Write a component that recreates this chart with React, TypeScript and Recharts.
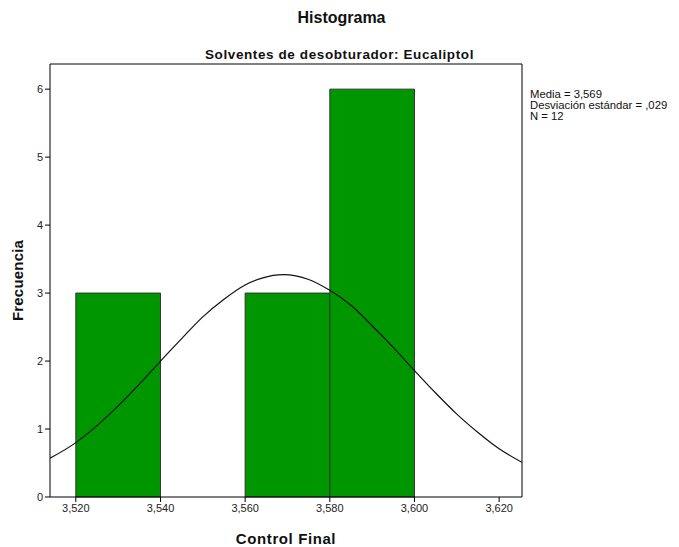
import React from 'react';
import {
    ComposedChart,
    Line,
    XAxis,
    YAxis,
    ReferenceArea,
    ReferenceLine,
} from 'recharts';

// histogram bins (Control Final)
const binStarts = [3.52, 3.54, 3.56, 3.58];
const binEnds = [3.54, 3.56, 3.58, 3.6];
const counts = [3, 0, 3, 6];

// normal curve
const curveX = [
    3.5139, 3.52, 3.525, 3.53, 3.535, 3.54, 3.545, 3.55, 3.555, 3.56, 3.564, 3.569,
    3.575, 3.58, 3.585, 3.59, 3.595, 3.6, 3.605, 3.61, 3.615, 3.62, 3.6254,
];
const curveY = [
    0.57, 0.8, 1.05, 1.34, 1.66, 2.0, 2.33, 2.65, 2.91, 3.12, 3.22, 3.27,
    3.2, 3.04, 2.82, 2.52, 2.2, 1.86, 1.53, 1.22, 0.95, 0.71, 0.51,
];

const xTicks = [3.52, 3.54, 3.56, 3.58, 3.6, 3.62];
const yTicks = [0, 1, 2, 3, 4, 5, 6];
const X_MIN = 3.5139;
const X_MAX = 3.6254;
const Y_MAX = 6.37;

const statLines = ['Media = 3,569', 'Desviación estándar = ,029', 'N = 12'];

const FONT = '"Liberation Sans", Arial, sans-serif';

const curveData = curveX.map((x, i) => ({ x, y: curveY[i] }));

const fmtX = (v: number) => v.toFixed(3).replace('.', ',');

export default function App() {
    return (
        <div style={{ position: 'absolute', left: 0, top: 0, width: 679, height: 547, background: '#fff', fontFamily: FONT }}>
            {/* Titles */}
            <div style={{ position: 'absolute', left: 0, width: 679, top: 9, textAlign: 'center', paddingLeft: 2, fontSize: 16, fontWeight: 'bold', color: '#111' }}>
                Histograma
            </div>
            <div style={{ position: 'absolute', left: 0, width: 679, top: 47, textAlign: 'center', paddingLeft: 0, fontSize: 13.5, letterSpacing: 0.6, fontWeight: 'bold', color: '#111' }}>
                Solventes de desobturador: Eucaliptol
            </div>
            {/* Stats */}
            <div style={{ position: 'absolute', left: 530, top: 89, fontSize: 11.3, lineHeight: '11px', color: '#111' }}>
                {statLines.map((s) => (
                    <div key={s}>{s}</div>
                ))}
            </div>

            <ComposedChart
                width={679}
                height={547}
                data={curveData}
                margin={{ top: 64, right: 157, left: 0, bottom: 0 }}
                style={{ fontFamily: FONT }}
            >
                <XAxis
                    dataKey="x"
                    type="number"
                    domain={[X_MIN, X_MAX]}
                    ticks={xTicks}
                    tickFormatter={fmtX}
                    allowDataOverflow
                    height={50}
                    tickSize={5}
                    stroke="#000"
                    tick={{ fill: '#222', fontSize: 11 }}
                    label={{ value: 'Control Final', position: 'insideBottom', offset: 3, style: { fontSize: 15, letterSpacing: 0.6, fontWeight: 'bold', fill: '#111' } }}
                />
                <YAxis
                    type="number"
                    domain={[0, Y_MAX]}
                    ticks={yTicks}
                    allowDataOverflow
                    width={50}
                    tickSize={5}
                    stroke="#000"
                    tick={{ fill: '#222', fontSize: 11 }}
                    label={{ value: 'Frecuencia', angle: -90, position: 'insideLeft', offset: 18, style: { fontSize: 15, letterSpacing: 0.2, fontWeight: 'bold', fill: '#111', textAnchor: 'middle' } }}
                />
                {binStarts.map((s, i) =>
                    counts[i] > 0 ? (
                        <ReferenceArea
                            key={s}
                            x1={s}
                            x2={binEnds[i]}
                            y1={0}
                            y2={counts[i]}
                            fill="#009600"
                            fillOpacity={1}
                            stroke="#333"
                            strokeWidth={1}
                        />
                    ) : null
                )}
                <ReferenceLine y={Y_MAX} stroke="#000" />
                <ReferenceLine x={X_MAX} stroke="#000" />
                <Line
                    dataKey="y"
                    type="monotone"
                    stroke="#111"
                    strokeWidth={1.2}
                    dot={false}
                    activeDot={false}
                    isAnimationActive={false}
                />
            </ComposedChart>
        </div>
    );
}
